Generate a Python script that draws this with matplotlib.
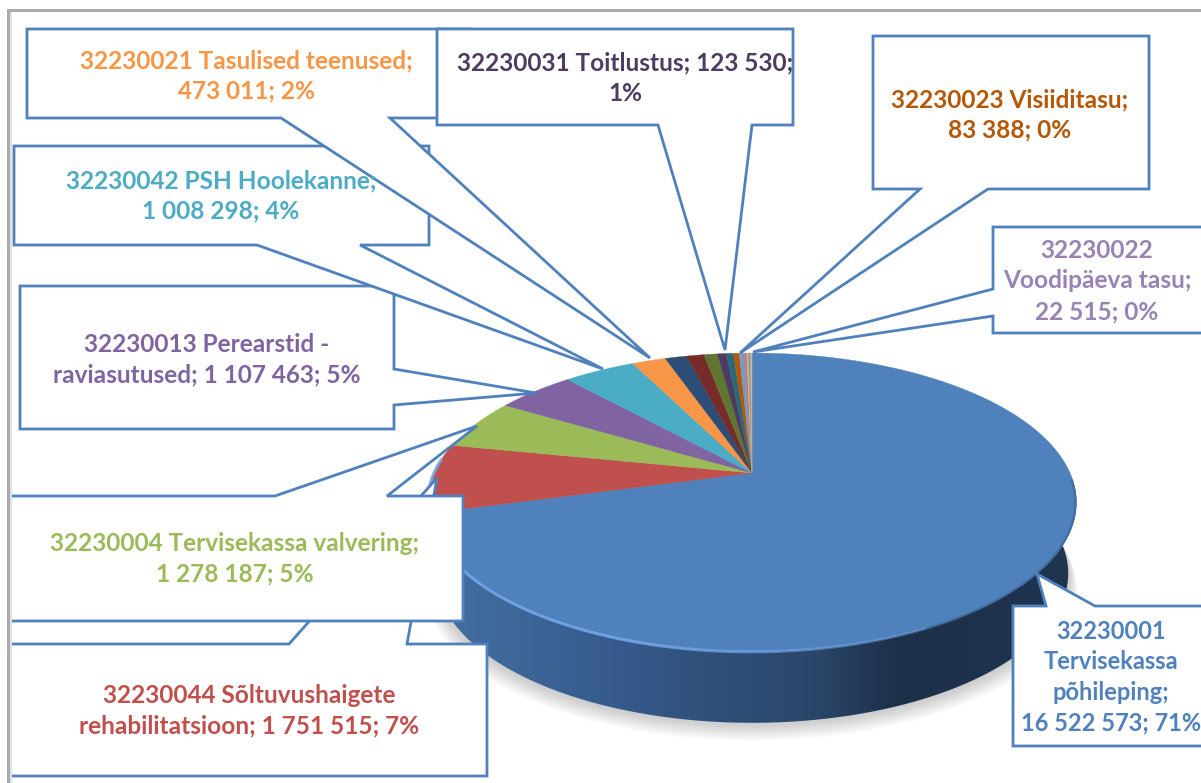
import numpy as np
import matplotlib
matplotlib.use('Agg')
import matplotlib.pyplot as plt
from matplotlib.collections import LineCollection
from matplotlib.colors import LinearSegmentedColormap, to_rgba
from matplotlib.patches import Polygon

# Slice values (the ones with no printed label are estimated from the picture)
values = np.array([16522573, 1751515, 1278187, 1107463, 1008298, 473011,
                   300000, 250000, 190000, 123530, 100000, 83388,
                   70000, 35000, 25000, 22515, 15000, 10000])
colors = ['#4F81BD', '#C0504D', '#9BBB59', '#8064A2', '#4BACC6', '#F79646',
          '#2C4D75', '#772C2A', '#5F7530', '#4D3B62', '#276A7C', '#B65708',
          '#729ACA', '#CD7371', '#AFC97A', '#9983B5', '#6FBDD1', '#F9AA6E']

label_texts = ['32230021 Tasulised teenused;\n473 011; 2%',
               '32230031 Toitlustus; 123 530;\n1%',
               '32230023 Visiiditasu;\n83 388; 0%',
               '32230042 PSH Hoolekanne;\n1 008 298; 4%',
               '32230022\nVoodipäeva tasu;\n22 515; 0%',
               '32230013 Perearstid -\nraviasutused; 1 107 463; 5%',
               '32230004 Tervisekassa valvering;\n1 278 187; 5%',
               '32230044 Sõltuvushaigete\nrehabilitatsioon; 1 751 515; 7%',
               '32230001\nTervisekassa\npõhileping;\n16 522 573; 71%']
label_colors = ['#F79646', '#4D3B62', '#B65708', '#4BACC6', '#9983B5',
                '#8064A2', '#9BBB59', '#C0504D', '#4F81BD']
label_pos = [(246, 76), (625, 78), (1010, 115), (221, 196), (1097, 281),
             (207, 360), (235, 559), (249, 711), (1111, 677)]
label_sizes = [17.6, 17.6, 17.6, 17.6, 17.6, 17.6, 17.6, 17.6, 17.0]

# Callout outlines, back to front
callouts = [
    [(20, 286), (370, 286), (394, 286), (394, 369), (536, 393), (394, 405), (394, 429), (20, 429)],
    [(14, 146), (429, 146), (429, 245), (360, 245), (603, 369), (257, 245), (14, 245)],
    [(27, 29), (470, 29), (470, 118), (390, 118), (650, 358), (281, 118), (27, 118)],
    [(437, 29), (793, 29), (793, 125), (752, 125), (725, 350), (658, 125), (437, 125)],
    [(873, 36), (1149, 36), (1149, 189), (988, 189), (740, 353), (920, 189), (873, 189)],
    [(993, 227), (1215, 227), (1215, 333), (993, 333), (993, 316), (753, 352), (993, 289)],
    [(1013, 606), (1046, 606), (1037, 574), (1095, 606), (1215, 606), (1215, 746), (1013, 746)],
    [(9, 644), (289, 644), (437, 478), (407, 644), (487, 644), (487, 776), (9, 776)],
    [(9, 496), (275, 496), (477, 426), (387, 496), (463, 496), (463, 621), (9, 621)],
]

# Perspective of the tilted disc: tip of the slices is not the ellipse centre
TIP_X, TIP_Y = 752, 473
W, A, C = 318, -50.4, 0.197
DEPTH = 71


def disc(theta, width=W, drop=0):
    u, v = np.sin(theta), np.cos(theta)
    d = 1 + C * v
    return TIP_X + width * u / d, (A * v + TIP_Y) / d + drop


fig = plt.figure(figsize=(12.01, 7.83), dpi=100)
ax = fig.add_axes([0, 0, 1, 1])
ax.set_xlim(0, 1201)
ax.set_ylim(783, 0)
ax.axis('off')

plt.rcParams['font.family'] = ['Lato', 'DejaVu Sans']

full = np.linspace(0, 2 * np.pi, 400)

# Soft shadow under the disc
for k in range(1, 19):
    sx, sy = disc(full, W - 8 + k * 0.5, DEPTH + k)
    ax.fill(sx, sy, color='#808080', alpha=0.022, lw=0, zorder=1)

# Side wall with horizontal gradient
front = np.linspace(np.pi / 2 - 0.15, 3 * np.pi / 2 + 0.15, 200)
tx, ty = disc(front)
bx, by = disc(front, W - 8, DEPTH)
wall = Polygon(np.vstack([np.column_stack([tx, ty]), np.column_stack([bx, by])[::-1]]),
               closed=True, fc='none', ec='none', transform=ax.transData)
ax.add_patch(wall)
wall_cmap = LinearSegmentedColormap.from_list(
    'wall', [(0, '#4470A4'), (0.3, '#35598A'), (0.6, '#2A4567'), (0.72, '#1D3049'), (1, '#1F3550')])
im = ax.imshow(np.linspace(0, 1, 512).reshape(1, -1), cmap=wall_cmap, aspect='auto',
               extent=(432, 1080, 740, 480), zorder=2)
im.set_clip_path(wall)
ax.set_xlim(0, 1201)
ax.set_ylim(783, 0)

# Top surface, one polygon per slice
edges = np.concatenate([[0], np.cumsum(values)]) / values.sum() * 2 * np.pi
for i in range(len(values)):
    t = np.linspace(edges[i], edges[i + 1], max(int((edges[i + 1] - edges[i]) * 80), 2))
    x, y = disc(t)
    ax.fill(np.r_[TIP_X, x], np.r_[TIP_Y, y], facecolor=colors[i], edgecolor=colors[i],
            lw=0.3, zorder=3)

# Lit rim on the front of the disc, dark soft edge on the lower right
rim = np.linspace(3 * np.pi / 2 + 0.1, np.pi * 0.75, 160)
rx, ry = disc(rim)
pts = np.column_stack([rx, ry]).reshape(-1, 1, 2)
segs = np.concatenate([pts[:-1], pts[1:]], axis=1)
rim_colors = [to_rgba('#74A6E6', a) for a in np.interp(np.arange(159), [0, 90, 159], [0.9, 0.9, 0])]
ax.add_collection(LineCollection(segs, colors=rim_colors, linewidths=2.2, zorder=4))

dark = np.linspace(np.pi * 0.85, np.pi / 2 + 0.05, 100)
dx, dy = disc(dark, W - 1)
ax.plot(dx, dy, color='#2A4A72', lw=1.6, alpha=0.35, zorder=4)

# Callouts and their labels
for i, pts in enumerate(callouts):
    ax.add_patch(Polygon(pts, closed=True, fc='white', ec='#4F81BD', lw=2.0,
                         joinstyle='miter', zorder=10 + i))

for text, col, (lx, ly), size in zip(label_texts, label_colors, label_pos, label_sizes):
    ax.text(lx, ly, text, color=col, ha='center', va='center', fontsize=size,
            fontweight='bold', linespacing=1.4, zorder=30)

# Grey frame of the chart area, cut by the picture on the right and bottom
ax.fill([7, 1201, 1201, 10, 10, 7], [9, 9, 12, 12, 783, 783], color='#ABABAB', lw=0, zorder=40)
ax.fill([10, 12, 12, 10], [12, 12, 783, 783], color='#E2E2E2', lw=0, zorder=40)

plt.savefig('out.png', dpi=100)
